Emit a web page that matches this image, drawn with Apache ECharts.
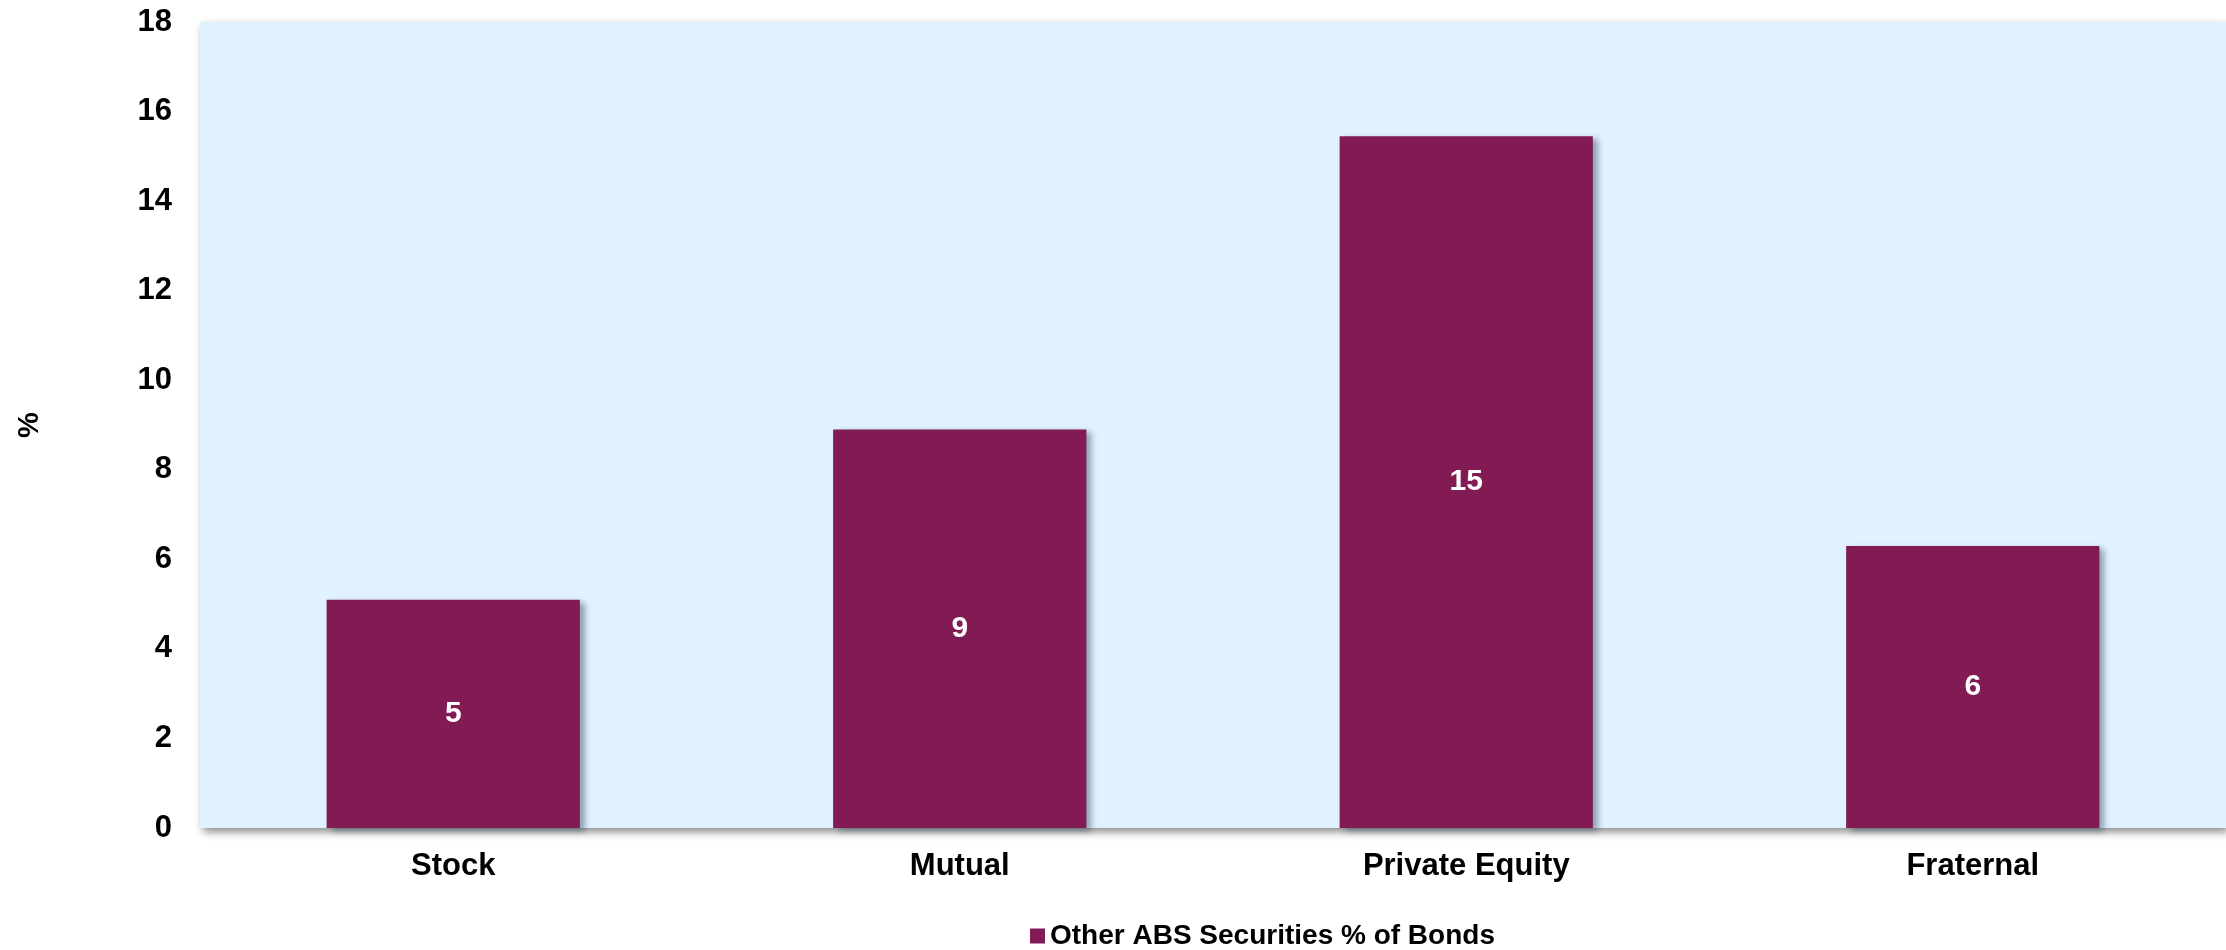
<!DOCTYPE html>
<html>
<head>
<meta charset="utf-8">
<script src="https://cdn.jsdelivr.net/npm/echarts@6/dist/echarts.min.js"></script>
<style>
  html, body { margin: 0; padding: 0; background: #ffffff; }
  #chart { width: 2226px; height: 950px; }
</style>
</head>
<body>
<div id="chart"></div>
<script>
// Share of bond holdings in other ABS securities, by company type
const categories = ['Stock', 'Mutual', 'Private Equity', 'Fraternal'];
const absShare = [5.1, 8.9, 15.45, 6.3];
const seriesName = 'Other ABS Securities % of Bonds';
const yTicks = { min: 0, max: 18, interval: 2 };

const FONT = '"Liberation Sans", Arial, sans-serif';
const BAR = '#821A54';

const chart = echarts.init(document.getElementById('chart'), null, { renderer: 'canvas' });

chart.setOption({
  animation: false,
  backgroundColor: '#ffffff',
  grid: {
    left: 200,
    right: 0,
    top: 22,
    bottom: 122,
    containLabel: false,
    outerBoundsMode: 'none',
    show: true,
    backgroundColor: '#E0F2FE',
    borderWidth: 0,
    shadowColor: 'rgba(0,0,0,0.45)',
    shadowBlur: 8,
    shadowOffsetX: 3,
    shadowOffsetY: 4
  },
  legend: {
    data: [seriesName],
    left: 1025,
    top: 917,
    icon: 'rect',
    itemWidth: 15,
    itemHeight: 15,
    itemGap: 6,
    textStyle: { fontFamily: FONT, fontWeight: 'bold', fontSize: 28, color: '#000' }
  },
  xAxis: {
    type: 'category',
    data: categories,
    axisLine: { show: false },
    axisTick: { show: false },
    axisLabel: {
      margin: 23,
      fontFamily: FONT,
      fontWeight: 'bold',
      fontSize: 31,
      color: '#000'
    }
  },
  yAxis: {
    type: 'value',
    min: yTicks.min,
    max: yTicks.max,
    interval: yTicks.interval,
    name: '%',
    nameLocation: 'middle',
    nameGap: 156,
    nameRotate: 90,
    nameTextStyle: { fontFamily: FONT, fontWeight: 'bold', fontSize: 29, color: '#000' },
    axisLine: { show: false },
    axisTick: { show: false },
    splitLine: { show: false },
    axisLabel: {
      margin: 28,
      fontFamily: FONT,
      fontWeight: 'bold',
      fontSize: 31,
      color: '#000'
    }
  },
  series: [{
    name: seriesName,
    type: 'bar',
    data: absShare,
    barWidth: '50%',
    itemStyle: {
      color: BAR,
      shadowColor: 'rgba(40,60,80,0.45)',
      shadowBlur: 6,
      shadowOffsetX: 5,
      shadowOffsetY: 3
    },
    label: {
      show: true,
      position: 'inside',
      fontFamily: FONT,
      fontWeight: 'bold',
      fontSize: 30,
      color: '#ffffff',
      formatter: p => p.value.toFixed(0)
    }
  }]
});
</script>
</body>
</html>
